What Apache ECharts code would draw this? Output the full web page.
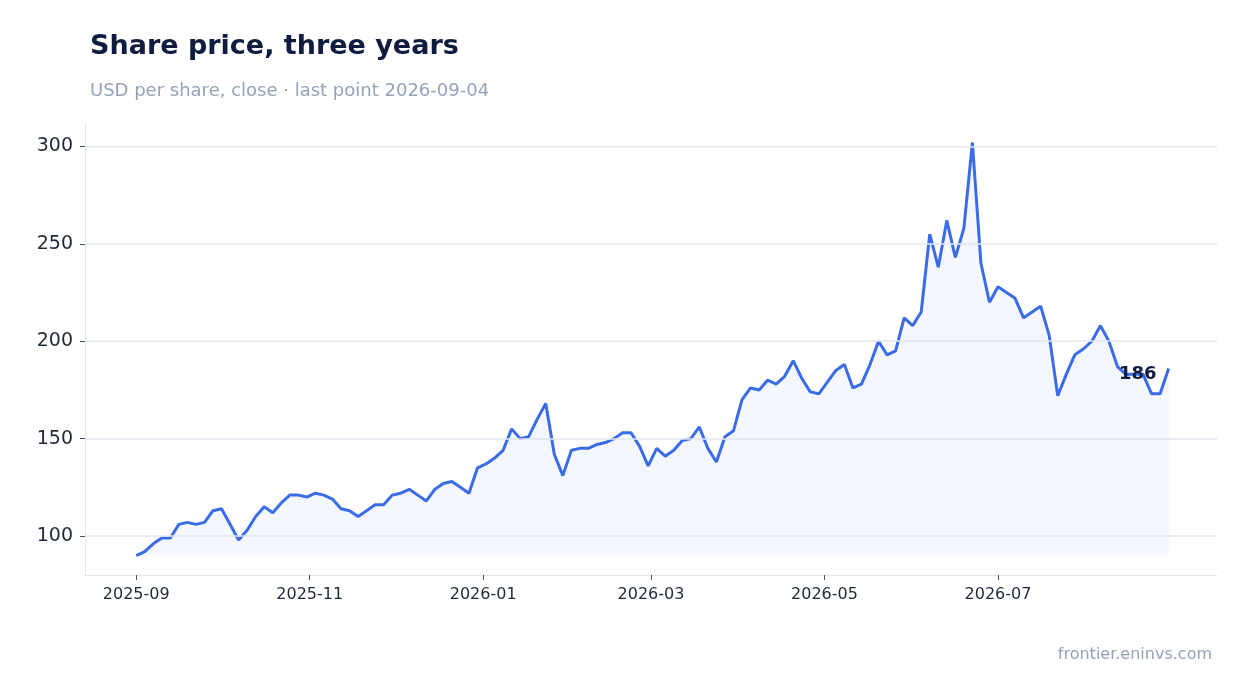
<!DOCTYPE html>
<html><head><meta charset="utf-8">
<script src="https://cdn.jsdelivr.net/npm/echarts@6/dist/echarts.min.js"></script>
<style>html,body{margin:0;padding:0;background:#fff}#c{width:1247px;height:693px}</style>
</head><body><div id="c"></div>
<script>
const startDate = '2025-09-01';
const stepDays = 3;
const prices = [90,92,96,99,99,106,107,106,107,113,114,106,98,103,110,115,112,117,121,121,
120,122,121,119,114,113,110,113,116,116,121,122,124,121,118,124,127,128,125,122,
135,137,140,144,155,150,151,160,168,142,131,144,145,145,147,148,150,153,153,146,
136,145,141,144,149,150,156,145,138,151,154,170,176,175,180,178,182,190,181,174,
173,179,185,188,176,178,188,200,193,195,212,208,215,255,238,262,243,258,302,240,
220,228,225,222,212,215,218,203,172,183,193,196,200,208,200,187,183,183,183,173,173,186];
const yTicks = [100,150,200,250,300];
const xTickLabels = ['2025-09','2025-11','2026-01','2026-03','2026-05','2026-07'];

const t0 = Date.parse(startDate + 'T00:00:00Z');
const data = prices.map((v,i)=>[t0 + i*stepDays*86400000, v]);
const xTicks = xTickLabels.map(s=>Date.parse(s+'-01T00:00:00Z'));
const last = data.length-1;

const chart = echarts.init(document.getElementById('c'));
chart.setOption({
  animation:false,
  title:[{text:'Share price, three years',left:85,top:28,textStyle:{fontSize:27,fontWeight:'bold',color:'#0f1c3f',fontFamily:'DejaVu Sans'}},
         {text:'USD per share, close · last point 2026-09-04',left:85,top:77,textStyle:{fontSize:18,fontWeight:'normal',color:'#94a3b8',fontFamily:'DejaVu Sans'}},
         {text:'frontier.eninvs.com',right:30,top:642,textStyle:{fontSize:16,fontWeight:'normal',color:'#94a3b8',fontFamily:'DejaVu Sans'}}],
  grid:{left:85,right:30,top:123,bottom:118},
  xAxis:{type:'value',min:Date.parse('2025-08-14T00:00:00Z'),max:Date.parse('2026-09-16T00:00:00Z'),
    axisLine:{lineStyle:{color:'#e2e6ef'}},
    axisTick:{show:true,customValues:xTicks,length:5,lineStyle:{color:'#475569'}},
    axisLabel:{customValues:xTicks,fontSize:16,color:'#1e293b',fontFamily:'DejaVu Sans',margin:12,
      formatter:v=>{const d=new Date(v);return d.getUTCFullYear()+'-'+String(d.getUTCMonth()+1).padStart(2,'0');}},
    splitLine:{show:false}},
  yAxis:{type:'value',min:80,max:312,
    axisLine:{show:true,lineStyle:{color:'#e2e6ef'}},
    axisTick:{show:true,customValues:yTicks,length:5,lineStyle:{color:'#475569'}},
    axisLabel:{customValues:yTicks,fontSize:19,color:'#1e293b',fontFamily:'DejaVu Sans',margin:12},
    splitLine:{show:false}},
  series:[{type:'line',data:data,showSymbol:false,symbol:'none',
    lineStyle:{color:'#3b6ce8',width:3},itemStyle:{color:'#3b6ce8'},
    areaStyle:{color:'rgba(59,108,232,0.08)',origin:90},
    markLine:{silent:true,symbol:'none',label:{show:false},lineStyle:{color:'#e2e6ef',type:'solid',width:1.5},
      data:yTicks.map(v=>({yAxis:v}))},
    markPoint:{symbol:'circle',symbolSize:0,data:[{coord:data[last],value:prices[last],
      label:{show:true,formatter:String(prices[last]),position:'left',offset:[0,6],distance:12,fontSize:18,fontWeight:'bold',color:'#0f1c3f',fontFamily:'DejaVu Sans'}}]}
  }]
});
</script></body></html>
